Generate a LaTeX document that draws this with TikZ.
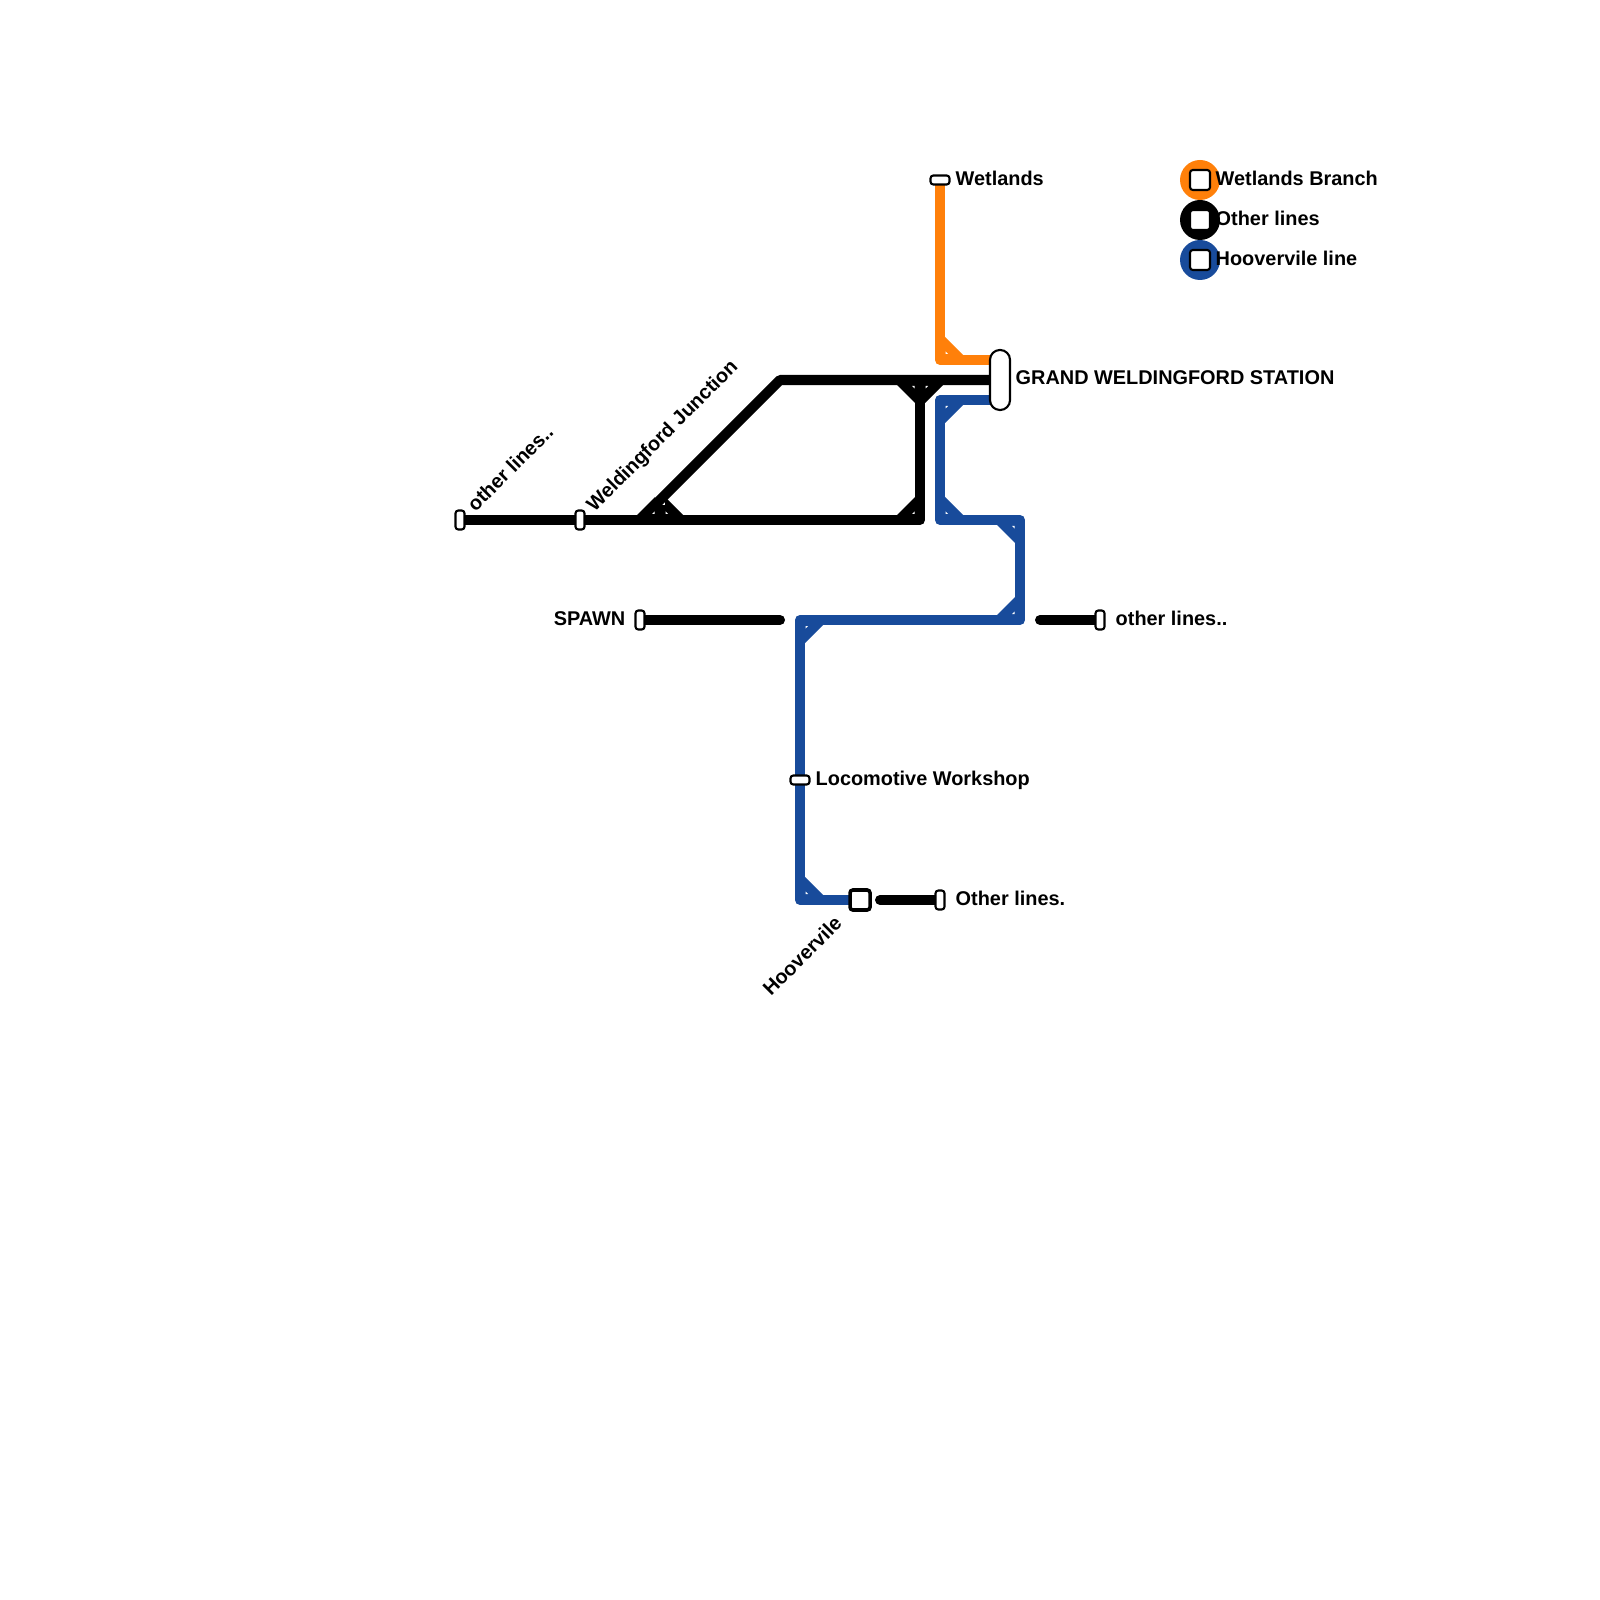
\documentclass[tikz,border=0pt]{standalone}
\usepackage{fontspec}
\setmainfont{Liberation Sans}
\usetikzlibrary{backgrounds,calc}
\definecolor{wetlandsorange}{RGB}{255,128,10}
\definecolor{hooverblue}{RGB}{24,75,155}
\tikzset{
  track/.style={line width=2.85pt, line join=round},
  stop/.style={draw=black, fill=white, line width=0.6pt, rounded corners=0.8pt, inner sep=0pt},
  stopv/.style={stop, minimum width=0.09cm, minimum height=0.19cm},
  stoph/.style={stop, minimum width=0.19cm, minimum height=0.09cm},
  stopbig/.style={stop, line width=1pt, minimum width=0.2cm, minimum height=0.2cm},
  stoplegend/.style={stop, minimum width=0.2cm, minimum height=0.2cm},
  dot/.style={circle, inner sep=0pt, minimum size=0.4cm},
  lbl/.style={inner sep=0pt, font=\fontsize{5.66}{7}\selectfont\bfseries}
}
% fillet on the inner side of a bend, with its small gap
\newcommand{\bendfill}[4]{
  \fill[#1] ($(#2)+(0.05*#3,0.05*#4)$) -- ($(#2)+(0.23*#3,0.05*#4)$) -- ($(#2)+(0.05*#3,0.23*#4)$) -- cycle;
  \fill[white] ($(#2)+(0.055*#3,0.06*#4)$) -- ($(#2)+(0.08*#3,0.06*#4)$) -- ($(#2)+(0.055*#3,0.085*#4)$) -- cycle;
}
\begin{document}
\begin{tikzpicture}[x=1cm, y=-1cm]
\useasboundingbox (0,0) rectangle (16,16);

% legend
\node[dot, fill=wetlandsorange] (dotwet) at (12,1.8) {};
\node[dot, fill=black] (dotother) at (12,2.2) {};
\node[dot, fill=hooverblue] (dothoov) at (12,2.6) {};
\node[stoplegend] (legwet) at (12,1.8) {};
\node[stoplegend] (legother) at (12,2.2) {};
\node[stoplegend] (leghoov) at (12,2.6) {};
\node[lbl, anchor=base west] (txtwet) at (12.15,1.855) {Wetlands Branch};
\node[lbl, anchor=base west] (txtother) at (12.15,2.255) {Other lines};
\node[lbl, anchor=base west] (txthoov) at (12.15,2.655) {Hoovervile line};

% stations
\node[stoph] (wetlands) at (9.4,1.8) {};
\node[stop, minimum width=0.2cm, minimum height=0.6cm, rounded corners=2.8pt] (grand) at (10,3.8) {};
\node[stopv] (farwest) at (4.6,5.2) {};
\node[stopv] (junction) at (5.8,5.2) {};
\node[stopv] (spawn) at (6.4,6.2) {};
\node[stopv] (fareast) at (11,6.2) {};
\node[stoph] (workshop) at (8,7.8) {};
\node[stopbig] (hoovervile) at (8.6,9) {};
\node[stopv] (farsouth) at (9.4,9) {};

% station labels
\node[lbl, anchor=base west] (lblwetlands) at (9.55,1.855) {Wetlands};
\node[lbl, anchor=base west] (lblgrand) at (10.15,3.845) {GRAND WELDINGFORD STATION};
\node[lbl, anchor=base west, rotate=45] (lblfarwest) at (4.75,5.13) {other lines..};
\node[lbl, anchor=base west, rotate=45] (lbljunction) at (5.94,5.13) {Weldingford Junction};
\node[lbl, anchor=base east] (lblspawn) at (6.26,6.255) {SPAWN};
\node[lbl, anchor=base west] (lblfareast) at (11.15,6.255) {other lines..};
\node[lbl, anchor=base west] (lblworkshop) at (8.15,7.855) {Locomotive Workshop};
\node[lbl, anchor=base east, rotate=45] (lblhoovervile) at (8.435,9.245) {Hoovervile};
\node[lbl, anchor=base west] (lblfarsouth) at (9.55,9.055) {Other lines.};

\coordinate (wetbend) at (9.4,3.6);
\coordinate (wetend) at (10,3.6);
\coordinate (hoovstart) at (10,4);
\coordinate (hoova) at (9.4,4);
\coordinate (hoovb) at (9.4,5.2);
\coordinate (hoovc) at (10.2,5.2);
\coordinate (hoovd) at (10.2,6.2);
\coordinate (hoove) at (8,6.2);
\coordinate (hoovf) at (8,9);
\coordinate (split) at (6.4,5.2);
\coordinate (switch) at (6.6,5.2);
\coordinate (switchtop) at (6.6,5.05);
\coordinate (topleft) at (7.8,3.8);
\coordinate (tee) at (9.2,3.8);
\coordinate (lowright) at (9.2,5.2);
\coordinate (spawnend) at (7.8,6.2);
\coordinate (eaststart) at (10.4,6.2);
\coordinate (southstart) at (8.8,9);

\begin{scope}[on background layer]
% orange line
\draw[track, wetlandsorange] (wetlands.center) -- (wetbend) -- (wetend);
\bendfill{wetlandsorange}{wetbend}{1}{-1}
% black lines
\draw[track] (farwest.center) -- (lowright) -- (tee);
\draw[track] (split) -- (topleft) -- (grand.center);
\draw[track] (switch) -- (switchtop);
\draw[track, line cap=round] (spawn.center) -- (spawnend);
\draw[track, line cap=round] (eaststart) -- (fareast.center);
\draw[track, line cap=round] (southstart) -- (farsouth.center);
\bendfill{black}{tee}{-1}{1}
\bendfill{black}{tee}{1}{1}
\bendfill{black}{lowright}{-1}{-1}
\bendfill{black}{switch}{-1}{-1}
\bendfill{black}{switch}{1}{-1}
% blue line
\draw[track, hooverblue] (hoovstart) -- (hoova) -- (hoovb) -- (hoovc) -- (hoovd) -- (hoove) -- (hoovf) -- (hoovervile.center);
\bendfill{hooverblue}{hoova}{1}{1}
\bendfill{hooverblue}{hoovb}{1}{-1}
\bendfill{hooverblue}{hoovc}{-1}{1}
\bendfill{hooverblue}{hoovd}{-1}{-1}
\bendfill{hooverblue}{hoove}{1}{1}
\bendfill{hooverblue}{hoovf}{1}{-1}
\end{scope}
\end{tikzpicture}
\end{document}
